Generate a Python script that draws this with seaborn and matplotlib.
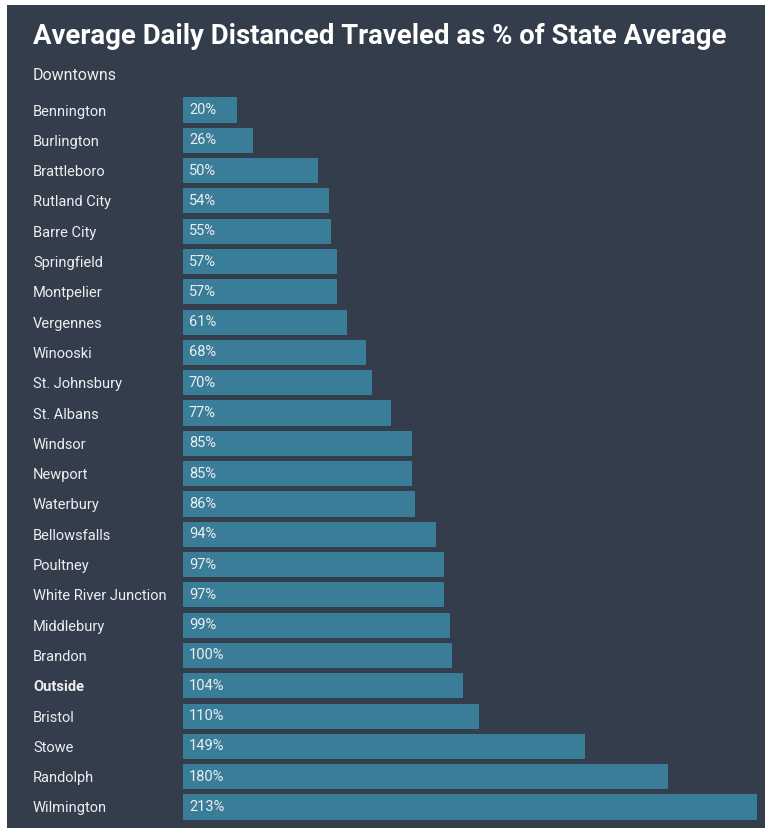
import matplotlib
matplotlib.use("Agg")
import matplotlib.pyplot as plt
import seaborn as sns
import pandas as pd
from matplotlib.patches import Rectangle

towns = ["Bennington", "Burlington", "Brattleboro", "Rutland City", "Barre City",
         "Springfield", "Montpelier", "Vergennes", "Winooski", "St. Johnsbury",
         "St. Albans", "Windsor", "Newport", "Waterbury", "Bellowsfalls", "Poultney",
         "White River Junction", "Middlebury", "Brandon", "Outside", "Bristol",
         "Stowe", "Randolph", "Wilmington"]
values = [20, 26, 50, 54, 55, 57, 57, 61, 68, 70, 77, 85, 85, 86, 94, 97, 97, 99,
          100, 104, 110, 149, 180, 213]
title = "Average Daily Distanced Traveled as % of State Average"
subtitle = "Downtowns"

df = pd.DataFrame({"town": towns, "value": values})

BG = "#343d4c"
BAR = "#3a7d98"
TXT = "#eceef0"

sns.set_theme(style="white")
plt.rcParams["font.family"] = ["Roboto", "DejaVu Sans"]

W, H = 765, 833
fig = plt.figure(figsize=(W / 100, H / 100), dpi=100)
fig.patch.set_facecolor("white")
fig.add_artist(Rectangle((7 / W, 1 - 828 / H), 1, (828 - 5) / H,
                         transform=fig.transFigure, facecolor=BG, edgecolor="none", zorder=0))

left, right = 183, 757
top, bottom = 110 - 15.15, 807 + 15.15
ax = fig.add_axes([left / W, 1 - bottom / H, (right - left) / W, (bottom - top) / H])
ax.set_facecolor(BG)
ax.patch.set_alpha(0)

sns.barplot(data=df, x="value", y="town", color=BAR, saturation=1, width=0.83,
            linewidth=0, edgecolor="none", ax=ax)
ax.set_xlim(0, 213)
ax.set_ylim(len(towns) - 0.5, -0.5)
ax.set_xlabel("")
ax.set_ylabel("")
ax.set_xticks([])
for s in ax.spines.values():
    s.set_visible(False)

ax.tick_params(axis="y", length=0, pad=150 * 0.72)
for lab in ax.get_yticklabels():
    lab.set_ha("left")
    lab.set_color(TXT)
    lab.set_fontsize(10.5)
    if lab.get_text() == "Outside":
        lab.set_fontweight("bold")

for i, v in enumerate(values):
    ax.text(6 / 2.695, i, f"{v}%", va="center", ha="left", color=TXT, fontsize=10.5)

fig.text(33 / W, 1 - 36 / H, title, color="white", fontsize=19.8, fontweight="bold",
         ha="left", va="center")
fig.text(33 / W, 1 - 75 / H, subtitle, color=TXT, fontsize=11.5, ha="left", va="center")

fig.savefig("out.png", dpi=100, facecolor=fig.get_facecolor())
